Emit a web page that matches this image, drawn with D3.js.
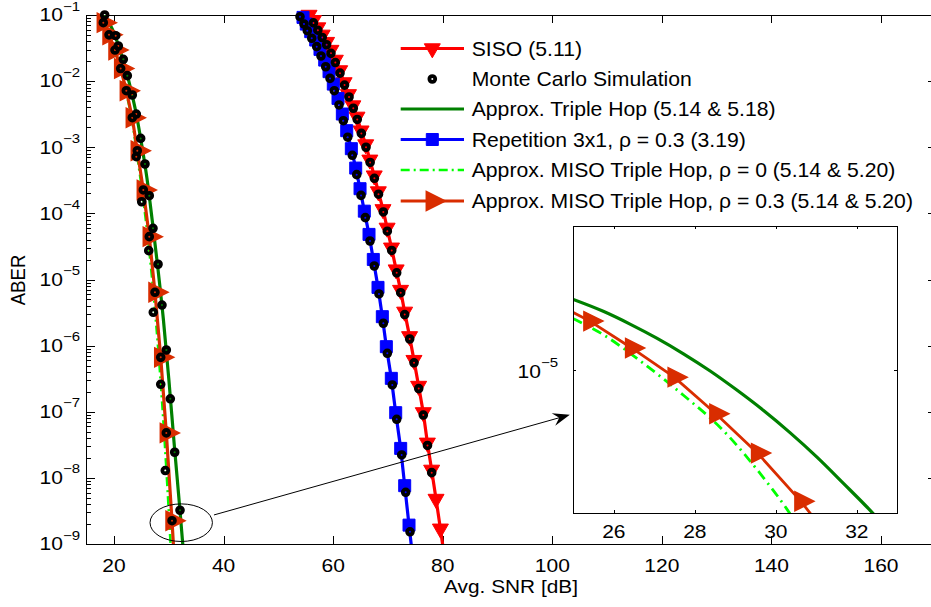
<!DOCTYPE html>
<html>
<head>
<meta charset="utf-8">
<script src="https://cdn.jsdelivr.net/npm/d3@7/dist/d3.min.js"></script>
<style>
html,body{margin:0;padding:0;background:#fff;}
svg text{font-family:"Liberation Sans",Arial,Helvetica,sans-serif;fill:#000;}
</style>
</head>
<body>
<svg id="chart" width="931" height="607"></svg>
<script>
// ---------------- data ----------------
const xTickValues = [20, 40, 60, 80, 100, 120, 140, 160];
const xTickLabels = ["20", "40", "60", "80", "100", "120", "140", "160"];
const yTickValues = [1e-9, 1e-8, 1e-7, 1e-6, 1e-5, 1e-4, 1e-3, 1e-2, 1e-1];
const yTickExponents = ["−9", "−8", "−7", "−6", "−5", "−4", "−3", "−2", "−1"];
const insetXTickValues = [26, 28, 30, 32];
const insetXTickLabels = ["26", "28", "30", "32"];
const insetYTickValues = [1e-5];
const insetYTickExponents = ["−5"];

const legendLabels = [
  "SISO (5.11)",
  "Monte Carlo Simulation",
  "Approx. Triple Hop (5.14 & 5.18)",
  "Repetition 3x1, ρ = 0.3 (3.19)",
  "Approx. MISO Triple Hop, ρ = 0 (5.14 & 5.20)",
  "Approx. MISO Triple Hop, ρ = 0.3 (5.14 & 5.20)"
];

// SISO (5.11)
const sisoSNR = [55.6, 56.4, 57.2, 58.0, 58.8, 59.6, 60.4, 61.2, 62.0, 62.8, 63.6, 64.35, 65.1, 65.95, 66.7, 67.5, 68.25, 69.1, 69.85, 70.65, 71.5, 72.3, 73.05, 73.95, 74.75, 75.6, 76.45, 77.2, 77.98, 78.78, 79.58, 80.4];
const sisoABER = [1.00e-1, 8.32e-2, 6.46e-2, 5.01e-2, 3.89e-2, 2.95e-2, 2.09e-2, 1.45e-2, 9.55e-3, 6.31e-3, 4.27e-3, 2.88e-3, 1.78e-3, 1.10e-3, 6.46e-4, 3.72e-4, 2.14e-4, 1.15e-4, 6.03e-5, 3.02e-5, 1.41e-5, 6.92e-6, 3.24e-6, 1.38e-6, 6.03e-7, 2.45e-7, 9.77e-8, 3.39e-8, 1.32e-8, 4.79e-9, 1.70e-9, 5.62e-10];
// Repetition 3x1, rho = 0.3
const repSNR = [53.77, 54.50, 55.10, 55.91, 56.82, 57.60, 58.46, 59.25, 60.03, 60.89, 61.68, 62.48, 63.32, 64.12, 64.91, 65.69, 66.55, 67.33, 68.19, 68.98, 69.71, 70.62, 71.42, 72.33, 73.06, 73.85, 74.65];
const repABER = [1.19e-1, 9.20e-2, 7.29e-2, 5.60e-2, 4.18e-2, 3.02e-2, 2.08e-2, 1.39e-2, 9.02e-3, 5.48e-3, 3.18e-3, 1.78e-3, 9.51e-4, 4.84e-4, 2.36e-4, 1.08e-4, 4.81e-5, 2.01e-5, 7.60e-6, 2.74e-6, 9.64e-7, 3.20e-7, 9.68e-8, 2.79e-8, 7.62e-9, 1.93e-9, 5.01e-10];
// Approx. Triple Hop
const tripleSNR = [18.2, 19, 20, 21, 22, 23, 24, 25, 26, 27, 28, 29, 30, 31, 32, 33];
const tripleABER = [1.05e-1, 7.94e-2, 5.37e-2, 3.09e-2, 1.70e-2, 7.94e-3, 3.39e-3, 1.17e-3, 3.47e-4, 7.59e-5, 1.51e-5, 2.57e-6, 3.16e-7, 3.16e-8, 3.55e-9, 3.55e-10];
// Approx. MISO Triple Hop, rho = 0
const rho0SNR = [17.0, 18.05, 19.09, 20.18, 21.22, 22.25, 23.34, 24.25, 25.35, 26.44, 27.48, 28.53, 29.55, 30.59];
const rho0ABER = [1.20e-1, 7.66e-2, 5.01e-2, 2.88e-2, 1.48e-2, 6.61e-3, 2.45e-3, 7.41e-4, 1.62e-4, 2.75e-5, 3.47e-6, 2.82e-7, 1.41e-8, 3.98e-10];
// Approx. MISO Triple Hop, rho = 0.3
const rho03SNR = [17.0, 18.05, 19.09, 20.18, 21.22, 22.25, 23.34, 24.25, 25.35, 26.44, 27.48, 28.53, 29.55, 30.59, 31.62];
const rho03ABER = [1.20e-1, 7.66e-2, 5.01e-2, 2.95e-2, 1.55e-2, 7.16e-3, 2.80e-3, 8.87e-4, 2.26e-4, 4.45e-5, 6.40e-6, 6.65e-7, 4.79e-8, 2.25e-9, 7.94e-11];

// Monte Carlo simulation points
const mcSisoSNR = [56.4, 57.2, 58.0, 58.8, 59.6, 60.4, 61.25, 62.08, 62.9, 63.68, 64.4, 65.15, 66.0, 66.75, 67.53, 68.28, 69.16, 69.89, 70.69, 71.6, 72.33, 73.06, 73.97, 74.76, 75.62, 76.46, 77.22, 77.99];
const mcSisoABER = [7.59e-2, 5.89e-2, 4.57e-2, 3.55e-2, 2.63e-2, 1.91e-2, 1.32e-2, 8.71e-3, 5.75e-3, 3.89e-3, 2.63e-3, 1.62e-3, 1.00e-3, 5.89e-4, 3.39e-4, 1.95e-4, 1.05e-4, 5.37e-5, 2.75e-5, 1.26e-5, 6.31e-6, 2.95e-6, 1.26e-6, 5.50e-7, 2.24e-7, 8.91e-8, 3.09e-8, 1.20e-8];
const mcRepSNR = [53.95, 54.68, 55.28, 56.09, 57.0, 57.78, 58.64, 59.43, 60.21, 61.07, 61.86, 62.66, 63.50, 64.30, 65.09, 65.87, 66.73, 67.51, 68.37, 69.16, 69.89, 70.80, 71.60, 72.51, 73.24, 74.03];
const mcRepABER = [9.42e-2, 7.31e-2, 5.79e-2, 4.45e-2, 3.32e-2, 2.40e-2, 1.65e-2, 1.10e-2, 7.16e-3, 4.36e-3, 2.52e-3, 1.42e-3, 7.55e-4, 3.85e-4, 1.87e-4, 8.61e-5, 3.82e-5, 1.60e-5, 6.04e-6, 2.18e-6, 7.66e-7, 2.54e-7, 7.69e-8, 2.22e-8, 6.05e-9, 1.53e-9];
const mcTripleSNR = [18.3, 20.31, 20.79, 21.7, 22.43, 23.34, 24.07, 24.87, 25.66, 26.44, 27.12, 28.04, 28.76, 29.55, 30.28, 31.08, 32.05];
const mcTripleABER = [1.00e-1, 4.86e-2, 3.40e-2, 2.14e-2, 1.21e-2, 6.17e-3, 3.18e-3, 1.36e-3, 5.58e-4, 1.85e-4, 5.94e-5, 1.70e-5, 4.11e-6, 8.59e-7, 1.57e-7, 2.44e-8, 3.24e-9];
const mcRho0SNR = [24.07, 25.06, 26.34, 27.17, 28.53, 29.36];
const mcRho0ABER = [7.19e-4, 1.50e-4, 2.73e-5, 3.19e-6, 2.60e-7, 1.29e-8];
const mcRho03SNR = [18.05, 19.09, 20.18, 21.22, 22.25, 23.34, 24.25, 25.35, 26.44, 27.48, 28.53, 29.55, 30.59];
const mcRho03ABER = [7.66e-2, 5.01e-2, 2.95e-2, 1.55e-2, 7.16e-3, 2.80e-3, 8.87e-4, 2.26e-4, 4.45e-5, 6.40e-6, 6.65e-7, 4.79e-8, 2.25e-9];

// Inset (zoomed view)
const insetTripleSNR = [25.0, 25.74, 26.40, 27.06, 27.72, 28.38, 29.03, 29.69, 30.35, 31.01, 31.67, 32.37, 33.0];
const insetTripleABER = [1.660e-5, 1.524e-5, 1.390e-5, 1.256e-5, 1.122e-5, 9.908e-6, 8.650e-6, 7.464e-6, 6.353e-6, 5.333e-6, 4.406e-6, 3.581e-6, 2.917e-6];
const insetRho0SNR = [24.5, 25.0, 25.70, 26.69, 27.72, 28.70, 29.65, 30.27, 30.8];
const insetRho0ABER = [1.549e-5, 1.445e-5, 1.297e-5, 1.057e-5, 8.318e-6, 6.457e-6, 4.667e-6, 3.664e-6, 2.884e-6];
const insetRho03SNR = [24.37, 25.41, 26.44, 27.49, 28.52, 29.55, 30.62, 31.65];
const insetRho03ABER = [1.66e-5, 1.42e-5, 1.17e-5, 9.48e-6, 7.28e-6, 5.48e-6, 3.87e-6, 2.63e-6];

// annotation (data coordinates)
const ellipseCenter = [32.27, 2.1e-9];
const arrowFrom = [38.25, 2.75e-9];
const arrowTo = [103.2, 9.0e-8];

// ---------------- styles ----------------
const C = {siso:"#ff0000", rep:"#0000ff", triple:"#008000", rho0:"#00ff00", rho03:"#d92d00"};
const tickFont = 17.5, tickSX = 1.2;

// ---------------- setup ----------------
const svg = d3.select("#chart");
svg.append("rect").attr("width", 931).attr("height", 607).attr("fill", "#fff");
const P = {l: 86.6, t: 15, r: 935.8, b: 544};
const x = d3.scaleLinear().domain([15, 170]).range([P.l, P.r]);
const y = d3.scaleLog().domain([1e-9, 1e-1]).range([P.b, P.t]);

const defs = svg.append("defs");
defs.append("clipPath").attr("id", "clipMain").append("rect")
  .attr("x", P.l).attr("y", P.t).attr("width", P.r - P.l).attr("height", P.b - P.t);

const zip = (a, b) => a.map((v, i) => [v, b[i]]);

function cleanAxis(g) {
  g.select(".domain").remove();
  g.selectAll(".tick text").remove();
  g.selectAll(".tick line").attr("stroke", "#000").attr("stroke-width", 1);
  g.attr("shape-rendering", "crispEdges");
}

// minor tick positions for log axis
const yMinor = [];
for (let e = -9; e < -1; e++) for (let k = 2; k <= 9; k++) yMinor.push(k * Math.pow(10, e));

// frame + ticks
svg.append("rect").attr("x", P.l).attr("y", P.t).attr("width", P.r - P.l).attr("height", P.b - P.t)
  .attr("fill", "none").attr("stroke", "#000").attr("stroke-width", 1).attr("shape-rendering", "crispEdges");
svg.append("g").attr("transform", `translate(0,${P.b})`).call(d3.axisBottom(x).tickValues(xTickValues).tickSize(-8).tickFormat("")).call(cleanAxis);
svg.append("g").attr("transform", `translate(0,${P.t})`).call(d3.axisTop(x).tickValues(xTickValues).tickSize(-8).tickFormat("")).call(cleanAxis);
svg.append("g").attr("transform", `translate(${P.l},0)`).call(d3.axisLeft(y).tickValues(yTickValues).tickSize(-8).tickFormat("")).call(cleanAxis);
svg.append("g").attr("transform", `translate(${P.l},0)`).call(d3.axisLeft(y).tickValues(yMinor).tickSize(-4).tickFormat("")).call(cleanAxis);
svg.append("g").attr("transform", `translate(${P.r},0)`).call(d3.axisRight(y).tickValues(yTickValues).tickSize(-8).tickFormat("")).call(cleanAxis);
svg.append("g").attr("transform", `translate(${P.r},0)`).call(d3.axisRight(y).tickValues(yMinor).tickSize(-4).tickFormat("")).call(cleanAxis);

// tick labels
xTickValues.forEach((v, i) => {
  svg.append("text").attr("transform", `translate(${x(v)},572) scale(${tickSX},1)`)
    .attr("text-anchor", "middle").attr("font-size", tickFont).text(xTickLabels[i]);
});
function powLabel(xr, yc, exp) {
  const t = svg.append("text").attr("transform", `translate(${xr},${yc + 6.3}) scale(${tickSX},1)`)
    .attr("text-anchor", "end").attr("font-size", tickFont);
  t.append("tspan").text("10");
  t.append("tspan").attr("font-size", 12.5).attr("dy", -10.7).text(exp);
}
yTickValues.forEach((v, i) => powLabel(80, y(v), yTickExponents[i]));

// axis labels
svg.append("text").attr("transform", "translate(511,593) scale(1.12,1)")
  .attr("text-anchor", "middle").attr("font-size", 18.6).text("Avg. SNR [dB]");
svg.append("text").attr("transform", "translate(25,280) scale(1.12,1) rotate(-90)")
  .attr("text-anchor", "middle").attr("font-size", 18.6).text("ABER");

// ---------------- marker symbols ----------------
const shapes = {
  down: "M-8,-4.7L8,-4.7L0,9.3Z",
  right: "M-6,-9.5L-6,9.5L13,0Z",
  square: "M-6,-6L6,-6L6,6L-6,6Z"
};
function drawMarkers(g, pts, sx, sy, shape, color, fill, sw) {
  g.selectAll(null).data(pts).enter().append("path")
    .attr("d", shapes[shape])
    .attr("transform", d => `translate(${sx(d[0])},${sy(d[1])})`)
    .attr("fill", fill).attr("stroke", color).attr("stroke-width", sw).attr("stroke-linejoin", "miter");
}
function drawMC(g, pts, sx, sy) {
  g.selectAll(null).data(pts).enter().append("circle")
    .attr("cx", d => sx(d[0])).attr("cy", d => sy(d[1])).attr("r", 2.9)
    .attr("fill", "none").attr("stroke", "#000").attr("stroke-width", 3.8);
}
const inMain = d => d[0] >= 15 && d[0] <= 170 && d[1] >= 0.999e-9 && d[1] <= 1.001e-1;

// ---------------- main data ----------------
const lineMain = d3.line().x(d => x(d[0])).y(d => y(d[1]));
const lineMainSmooth = d3.line().x(d => x(d[0])).y(d => y(d[1])).curve(d3.curveMonotoneX);
const gLines = svg.append("g").attr("clip-path", "url(#clipMain)");

const siso = zip(sisoSNR, sisoABER);
const rep = zip(repSNR, repABER);
const triple = zip(tripleSNR, tripleABER);
const rho0 = zip(rho0SNR, rho0ABER);
const rho03 = zip(rho03SNR, rho03ABER);

gLines.append("path").datum(siso).attr("d", lineMain).attr("fill", "none").attr("stroke", C.siso).attr("stroke-width", 3.2);
gLines.append("path").datum(rep).attr("d", lineMain).attr("fill", "none").attr("stroke", C.rep).attr("stroke-width", 3.2);
gLines.append("path").datum(triple).attr("d", lineMainSmooth).attr("fill", "none").attr("stroke", C.triple).attr("stroke-width", 3.2);
gLines.append("path").datum(rho0).attr("d", lineMainSmooth).attr("fill", "none").attr("stroke", C.rho0).attr("stroke-width", 2.6).attr("stroke-dasharray", "9,4,2,4");
gLines.append("path").datum(rho03).attr("d", lineMain).attr("fill", "none").attr("stroke", C.rho03).attr("stroke-width", 3.2);

const gMarks = svg.append("g");
drawMarkers(gMarks, siso.filter(inMain), x, y, "down", C.siso, C.siso, 1);
drawMarkers(gMarks, rep.filter(inMain), x, y, "square", C.rep, C.rep, 1);
drawMarkers(gMarks, rho03.filter(inMain), x, y, "right", C.rho03, C.rho03, 1.5);

const mcAll = [].concat(
  zip(mcSisoSNR, mcSisoABER), zip(mcRepSNR, mcRepABER), zip(mcTripleSNR, mcTripleABER),
  zip(mcRho0SNR, mcRho0ABER), zip(mcRho03SNR, mcRho03ABER)
).filter(inMain);
drawMC(gMarks, mcAll, x, y);

// ---------------- legend ----------------
const legRows = [48.5, 79, 109, 139.5, 170, 201];
const legX1 = 400.7, legX2 = 464, legXm = 432.3, legTX = 471.7;
const gLeg = svg.append("g");
const legSpec = [
  {color: C.siso, line: true, shape: "down", fill: C.siso, sw: 1},
  {mc: true},
  {color: C.triple, line: true},
  {color: C.rep, line: true, shape: "square", fill: C.rep, sw: 1},
  {color: C.rho0, line: true, dash: "9,4,2,4", width: 2.6},
  {color: C.rho03, line: true, shape: "right", fill: C.rho03, sw: 1.5}
];
legSpec.forEach((s, i) => {
  const yy = legRows[i];
  if (s.line) gLeg.append("line").attr("x1", legX1).attr("x2", legX2).attr("y1", yy).attr("y2", yy)
    .attr("stroke", s.color).attr("stroke-width", s.width || 3.2).attr("stroke-dasharray", s.dash || null);
  if (s.shape) gLeg.append("path").attr("d", shapes[s.shape]).attr("transform", `translate(${legXm},${yy})`)
    .attr("fill", s.fill).attr("stroke", s.color).attr("stroke-width", s.sw);
  if (s.mc) gLeg.append("circle").attr("cx", legXm).attr("cy", yy).attr("r", 2.9)
    .attr("fill", "none").attr("stroke", "#000").attr("stroke-width", 3.8);
  gLeg.append("text").attr("transform", `translate(${legTX},${yy + 7}) scale(1.06,1)`)
    .attr("font-size", 20).text(legendLabels[i]);
});

// ---------------- inset ----------------
const I = {l: 573.3, t: 226, r: 897.3, b: 513.3};
const xi = d3.scaleLinear().domain([25, 33]).range([I.l, I.r]);
const yi = d3.scaleLog().domain([3.55e-6, 2.82e-5]).range([I.b, I.t]);
defs.append("clipPath").attr("id", "clipInset").append("rect")
  .attr("x", I.l).attr("y", I.t).attr("width", I.r - I.l).attr("height", I.b - I.t);
svg.append("rect").attr("x", I.l).attr("y", I.t).attr("width", I.r - I.l).attr("height", I.b - I.t).attr("fill", "#fff");

const lineI = d3.line().x(d => xi(d[0])).y(d => yi(d[1]));
const lineIs = d3.line().x(d => xi(d[0])).y(d => yi(d[1])).curve(d3.curveMonotoneX);
const gIL = svg.append("g").attr("clip-path", "url(#clipInset)");
const iTriple = zip(insetTripleSNR, insetTripleABER);
const iRho0 = zip(insetRho0SNR, insetRho0ABER);
const iRho03 = zip(insetRho03SNR, insetRho03ABER);
gIL.append("path").datum(iTriple).attr("d", lineIs).attr("fill", "none").attr("stroke", C.triple).attr("stroke-width", 3.2);
gIL.append("path").datum(iRho0).attr("d", lineIs).attr("fill", "none").attr("stroke", C.rho0).attr("stroke-width", 2.8).attr("stroke-dasharray", "10,5,2,5");
gIL.append("path").datum(iRho03).attr("d", lineI).attr("fill", "none").attr("stroke", C.rho03).attr("stroke-width", 2.8);
const inInset = d => d[0] >= 25 && d[0] <= 33 && d[1] >= 3.55e-6 && d[1] <= 2.82e-5;
drawMarkers(svg.append("g"), iRho03.filter(inInset), xi, yi, "right", C.rho03, C.rho03, 1.5);

svg.append("rect").attr("x", I.l).attr("y", I.t).attr("width", I.r - I.l).attr("height", I.b - I.t)
  .attr("fill", "none").attr("stroke", "#000").attr("stroke-width", 1).attr("shape-rendering", "crispEdges");
svg.append("g").attr("transform", `translate(0,${I.b})`).call(d3.axisBottom(xi).tickValues(insetXTickValues).tickSize(-3.2).tickFormat("")).call(cleanAxis);
svg.append("g").attr("transform", `translate(0,${I.t})`).call(d3.axisTop(xi).tickValues(insetXTickValues).tickSize(-3.2).tickFormat("")).call(cleanAxis);
svg.append("g").attr("transform", `translate(${I.l},0)`).call(d3.axisLeft(yi).tickValues(insetYTickValues).tickSize(-3.2).tickFormat("")).call(cleanAxis);
svg.append("g").attr("transform", `translate(${I.r},0)`).call(d3.axisRight(yi).tickValues(insetYTickValues).tickSize(-3.2).tickFormat("")).call(cleanAxis);
insetXTickValues.forEach((v, i) => {
  svg.append("text").attr("transform", `translate(${xi(v)},538) scale(${tickSX},1)`)
    .attr("text-anchor", "middle").attr("font-size", tickFont).text(insetXTickLabels[i]);
});
insetYTickValues.forEach((v, i) => powLabel(558, yi(v) + 2, insetYTickExponents[i]));

// ---------------- annotation ----------------
const ex = x(ellipseCenter[0]), ey = y(ellipseCenter[1]);
svg.append("ellipse").attr("cx", ex).attr("cy", ey).attr("rx", 31.2).attr("ry", 18.8)
  .attr("fill", "none").attr("stroke", "#000").attr("stroke-width", 1);
const ax0 = x(arrowFrom[0]), ay0 = y(arrowFrom[1]);
const ax1 = x(arrowTo[0]), ay1 = y(arrowTo[1]);
const len = Math.hypot(ax1 - ax0, ay1 - ay0);
const ux = (ax1 - ax0) / len, uy = (ay1 - ay0) / len;
const nx = -uy, ny = ux;
svg.append("line").attr("x1", ax0).attr("y1", ay0).attr("x2", ax1 - 10 * ux).attr("y2", ay1 - 10 * uy)
  .attr("stroke", "#000").attr("stroke-width", 1);
const hb = [ax1 - 17 * ux, ay1 - 17 * uy];
const notch = [ax1 - 11 * ux, ay1 - 11 * uy];
svg.append("path").attr("d",
  `M${ax1},${ay1}L${hb[0] + 6.5 * nx},${hb[1] + 6.5 * ny}L${notch[0]},${notch[1]}L${hb[0] - 6.5 * nx},${hb[1] - 6.5 * ny}Z`)
  .attr("fill", "#000");
</script>
</body>
</html>
